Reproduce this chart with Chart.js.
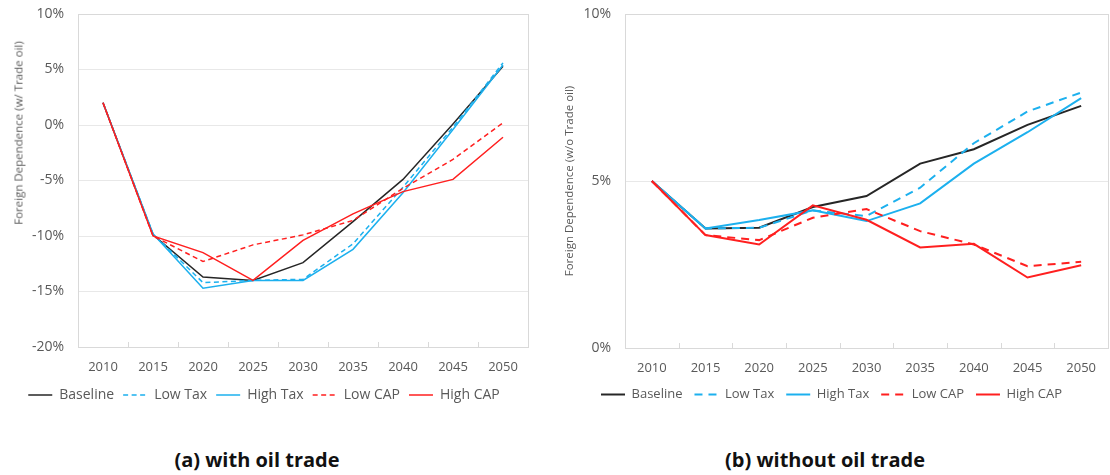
<!DOCTYPE html>
<html>
<head>
<meta charset="utf-8">
<script src="https://cdn.jsdelivr.net/npm/chart.js@4"></script>
<style>
  body { margin: 0; background: #fff; }
  #wrap { position: relative; width: 1110px; height: 475px; font-family: "Open Sans", sans-serif; }
  canvas { position: absolute; top: 0; }
  #chartA { left: 0; }
  #chartB { left: 555px; }
  .caption { position: absolute; top: 446px; font-weight: bold; font-size: 20px; color: #111; white-space: nowrap; transform: translateX(-50%); }
  .ytitle { position: absolute; font-size: 11.5px; color: #595959; white-space: nowrap; transform: translate(-50%, -50%) rotate(-90deg); }
</style>
</head>
<body>
<div id="wrap">
  <canvas id="chartA" width="555" height="420"></canvas>
  <canvas id="chartB" width="555" height="420"></canvas>
  <div class="ytitle" style="left:18px; top:133px;">Foreign Dependence (w/ Trade oil)</div>
  <div class="caption" style="left:257px;">(a) with oil trade</div>
  <div class="caption" style="left:825px;">(b) without oil trade</div>
</div>
<script>
const years = ["2010", "2015", "2020", "2025", "2030", "2035", "2040", "2045", "2050"];
const seriesNames = ["Baseline", "Low Tax", "High Tax", "Low CAP", "High CAP"];

// (a) with oil trade, percent
const baselineA = [2.0, -9.9, -13.7, -14.0, -12.4, -8.7, -4.9, 0.1, 5.3];
const lowTaxA   = [2.0, -9.8, -14.2, -14.0, -13.9, -10.7, -5.6, -0.2, 5.6];
const highTaxA  = [2.0, -9.8, -14.7, -14.0, -14.0, -11.2, -6.1, -0.4, 5.4];
const lowCapA   = [2.0, -10.0, -12.3, -10.8, -9.9, -8.6, -5.7, -3.1, 0.2];
const highCapA  = [2.0, -10.0, -11.5, -14.0, -10.4, -8.0, -6.0, -4.9, -1.1];

// (b) without oil trade, percent
const baselineB = [5.0, 3.58, 3.6, 4.22, 4.55, 5.52, 5.95, 6.68, 7.25];
const lowTaxB   = [5.0, 3.58, 3.6, 4.12, 3.95, 4.8, 6.13, 7.08, 7.65];
const highTaxB  = [5.0, 3.58, 3.83, 4.12, 3.8, 4.33, 5.52, 6.46, 7.48];
const lowCapB   = [5.0, 3.38, 3.23, 3.9, 4.16, 3.5, 3.1, 2.45, 2.58];
const highCapB  = [5.0, 3.38, 3.1, 4.27, 3.84, 3.01, 3.12, 2.11, 2.48];

const colors = ["#262626", "#1cb0ee", "#1cb0ee", "#ff1f1f", "#ff1f1f"];
const dashed = [false, true, false, true, false];

Chart.defaults.font.family = "'Open Sans', sans-serif";
Chart.defaults.color = "#595959";

// frame around the plot area plus the little category ticks on the bottom
const plotFrame = {
  id: "plotFrame",
  afterDatasetsDraw(chart) {
    const a = chart.chartArea;
    const x = chart.scales.x;
    const ctx = chart.ctx;
    ctx.save();
    ctx.strokeStyle = "#d9d9d9";
    ctx.lineWidth = 1;
    ctx.strokeRect(Math.round(a.left) + 0.5, Math.round(a.top) + 0.5, Math.round(a.right - a.left), Math.round(a.bottom - a.top));
    ctx.beginPath();
    for (let i = 1; i < years.length; i++) {
      const px = Math.round((x.getPixelForValue(i - 1) + x.getPixelForValue(i)) / 2) + 0.5;
      ctx.moveTo(px, a.bottom);
      ctx.lineTo(px, a.bottom - 5);
    }
    ctx.stroke();
    ctx.restore();
  }
};

function makeDatasets(values, width, dash) {
  return values.map((v, i) => ({
    label: seriesNames[i],
    data: v,
    borderColor: colors[i],
    backgroundColor: colors[i],
    borderWidth: width,
    borderDash: dashed[i] ? dash : [],
    pointRadius: 0,
    tension: 0,
    fill: false,
    order: values.length - i
  }));
}

function legendLabels(chart) {
  return chart.data.datasets.map((ds, i) => ({
    text: ds.label,
    fillStyle: ds.borderColor,
    strokeStyle: ds.borderColor,
    lineWidth: ds.borderWidth,
    lineDash: ds.borderDash,
    pointStyle: "line",
    fontColor: "#595959",
    hidden: false,
    datasetIndex: i
  }));
}

function makeChart(id, datasets, yMin, yMax, yTitle, pad, axisWidth, legendSize, legendPad, xHeight) {
  return new Chart(id, {
    type: "line",
    data: { labels: years, datasets: datasets },
    options: {
      responsive: false,
      animation: false,
      layout: { padding: pad },
      plugins: {
        tooltip: { enabled: false },
        legend: {
          position: "bottom",
          labels: {
            usePointStyle: true,
            pointStyleWidth: 24,
            padding: legendPad,
            font: { size: legendSize },
            generateLabels: legendLabels
          }
        }
      },
      scales: {
        x: {
          offset: true,
          grid: { display: false, drawTicks: false },
          border: { display: false },
          ticks: { padding: 12, font: { size: 13 }, maxRotation: 0 },
          afterFit(scale) { scale.height = xHeight; }
        },
        y: {
          min: yMin,
          max: yMax,
          grid: { color: "#e8e8e8", drawTicks: false },
          border: { display: false },
          ticks: { stepSize: 5, padding: 14, font: { size: 14 }, callback: v => v + "%" },
          title: yTitle ? { display: true, text: yTitle, font: { size: 11.5 }, padding: { top: 8, bottom: 0 } } : { display: false },
          afterFit(scale) {
            scale.width = axisWidth;
            scale.paddingTop = 0;
            scale.paddingBottom = 0;
          }
        }
      }
    },
    plugins: [plotFrame]
  });
}

makeChart("chartA",
  makeDatasets([baselineA, lowTaxA, highTaxA, lowCapA, highCapA], 1.5, [5, 3.5]),
  -20, 10, null, { left: 0, right: 27, top: 14, bottom: 8 }, 78, 14, 9, 32);

makeChart("chartB",
  makeDatasets([baselineB, lowTaxB, highTaxB, lowCapB, highCapB], 2, [8, 6]),
  0, 10, "Foreign Dependence (w/o Trade oil)", { left: 0, right: 2, top: 14, bottom: 9 }, 70, 13, 12, 28);
</script>
</body>
</html>
